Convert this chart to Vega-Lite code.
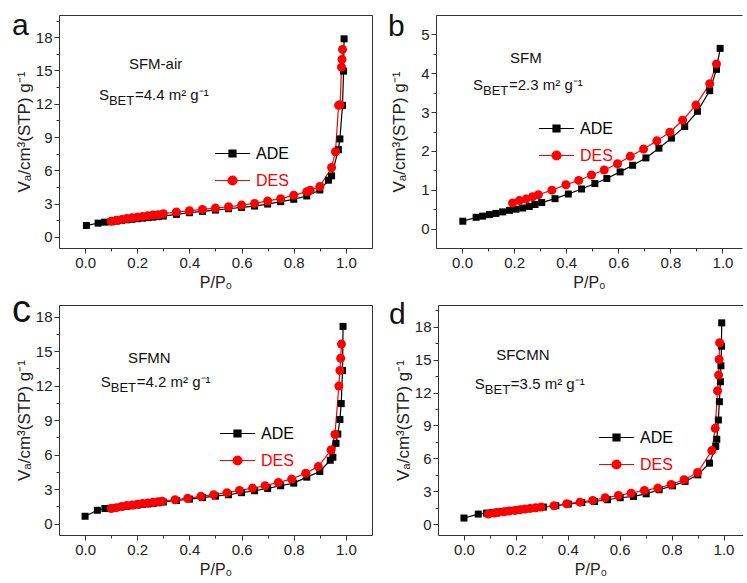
{
  "$schema": "https://vega.github.io/schema/vega-lite/v6.json",
  "padding": {"left": 12, "top": 10, "right": 0, "bottom": 0},
  "background": "white",
  "config": {
    "font": "Liberation Sans",
    "view": {"stroke": null},
    "axis": {"grid": false, "domainColor": "#333333", "tickColor": "#333333", "labelColor": "#222222", "titleColor": "#222222", "labelFontSize": 15, "titleFontSize": 16, "titleFontWeight": "normal", "labelFont": "Liberation Sans", "titleFont": "Liberation Sans", "domainWidth": 1, "tickWidth": 1},
    "axisLeft": {"titleFontSize": 17},
    "title": {"font": "Liberation Sans", "fontWeight": "normal", "color": "#111111"},
    "legend": {"labelFont": "Liberation Sans", "title": null, "orient": "none", "padding": 0, "labelFontSize": 16, "labelOffset": 5, "rowPadding": -13, "symbolSize": 1225, "symbolStrokeWidth": 1.2, "symbolOpacity": 1}
  },
  "datasets": {
    "A": [
      {"s":"ADE","p":0.005,"v":1.03},{"s":"ADE","p":0.05,"v":1.24},{"s":"ADE","p":0.075,"v":1.33},{"s":"ADE","p":0.1,"v":1.36},{"s":"ADE","p":0.12,"v":1.42},{"s":"ADE","p":0.14,"v":1.48},{"s":"ADE","p":0.16,"v":1.54},{"s":"ADE","p":0.18,"v":1.59},{"s":"ADE","p":0.2,"v":1.64},{"s":"ADE","p":0.22,"v":1.69},{"s":"ADE","p":0.24,"v":1.74},{"s":"ADE","p":0.26,"v":1.78},{"s":"ADE","p":0.28,"v":1.83},{"s":"ADE","p":0.3,"v":1.88},{"s":"ADE","p":0.35,"v":2.03},{"s":"ADE","p":0.4,"v":2.18},{"s":"ADE","p":0.45,"v":2.3},{"s":"ADE","p":0.5,"v":2.42},{"s":"ADE","p":0.55,"v":2.54},{"s":"ADE","p":0.6,"v":2.66},{"s":"ADE","p":0.65,"v":2.78},{"s":"ADE","p":0.7,"v":2.96},{"s":"ADE","p":0.75,"v":3.18},{"s":"ADE","p":0.8,"v":3.39},{"s":"ADE","p":0.85,"v":3.69},{"s":"ADE","p":0.9,"v":4.23},{"s":"ADE","p":0.933,"v":5.11},{"s":"ADE","p":0.945,"v":5.5},{"s":"ADE","p":0.971,"v":7.86},{"s":"ADE","p":0.977,"v":8.83},{"s":"ADE","p":0.987,"v":11.86},{"s":"ADE","p":0.991,"v":14.94},{"s":"ADE","p":0.993,"v":17.85},
      {"s":"DES","p":0.1,"v":1.42},{"s":"DES","p":0.12,"v":1.51},{"s":"DES","p":0.14,"v":1.57},{"s":"DES","p":0.16,"v":1.66},{"s":"DES","p":0.18,"v":1.72},{"s":"DES","p":0.2,"v":1.78},{"s":"DES","p":0.22,"v":1.85},{"s":"DES","p":0.24,"v":1.9},{"s":"DES","p":0.26,"v":1.97},{"s":"DES","p":0.28,"v":2.0},{"s":"DES","p":0.3,"v":2.09},{"s":"DES","p":0.35,"v":2.24},{"s":"DES","p":0.4,"v":2.36},{"s":"DES","p":0.45,"v":2.48},{"s":"DES","p":0.5,"v":2.6},{"s":"DES","p":0.55,"v":2.72},{"s":"DES","p":0.6,"v":2.87},{"s":"DES","p":0.65,"v":3.02},{"s":"DES","p":0.7,"v":3.24},{"s":"DES","p":0.75,"v":3.45},{"s":"DES","p":0.8,"v":3.75},{"s":"DES","p":0.85,"v":4.08},{"s":"DES","p":0.863,"v":4.2},{"s":"DES","p":0.9,"v":4.54},{"s":"DES","p":0.945,"v":6.26},{"s":"DES","p":0.96,"v":7.68},{"s":"DES","p":0.972,"v":11.86},{"s":"DES","p":0.978,"v":11.9},{"s":"DES","p":0.983,"v":15.3},{"s":"DES","p":0.985,"v":16.0},{"s":"DES","p":0.987,"v":16.9}
    ],
    "B": [
      {"s":"ADE","p":0.003,"v":0.19},{"s":"ADE","p":0.054,"v":0.29},{"s":"ADE","p":0.079,"v":0.32},{"s":"ADE","p":0.105,"v":0.36},{"s":"ADE","p":0.13,"v":0.39},{"s":"ADE","p":0.156,"v":0.43},{"s":"ADE","p":0.182,"v":0.47},{"s":"ADE","p":0.207,"v":0.5},{"s":"ADE","p":0.233,"v":0.53},{"s":"ADE","p":0.258,"v":0.57},{"s":"ADE","p":0.28,"v":0.62},{"s":"ADE","p":0.306,"v":0.67},{"s":"ADE","p":0.357,"v":0.77},{"s":"ADE","p":0.408,"v":0.89},{"s":"ADE","p":0.459,"v":1.02},{"s":"ADE","p":0.51,"v":1.16},{"s":"ADE","p":0.556,"v":1.29},{"s":"ADE","p":0.607,"v":1.46},{"s":"ADE","p":0.655,"v":1.63},{"s":"ADE","p":0.706,"v":1.82},{"s":"ADE","p":0.756,"v":2.07},{"s":"ADE","p":0.804,"v":2.33},{"s":"ADE","p":0.855,"v":2.63},{"s":"ADE","p":0.904,"v":3.02},{"s":"ADE","p":0.951,"v":3.55},{"s":"ADE","p":0.977,"v":4.1},{"s":"ADE","p":0.991,"v":4.64},
      {"s":"DES","p":0.194,"v":0.66},{"s":"DES","p":0.22,"v":0.72},{"s":"DES","p":0.246,"v":0.76},{"s":"DES","p":0.271,"v":0.82},{"s":"DES","p":0.293,"v":0.87},{"s":"DES","p":0.345,"v":0.99},{"s":"DES","p":0.399,"v":1.13},{"s":"DES","p":0.448,"v":1.24},{"s":"DES","p":0.497,"v":1.38},{"s":"DES","p":0.546,"v":1.51},{"s":"DES","p":0.597,"v":1.67},{"s":"DES","p":0.646,"v":1.86},{"s":"DES","p":0.697,"v":2.05},{"s":"DES","p":0.748,"v":2.26},{"s":"DES","p":0.798,"v":2.48},{"s":"DES","p":0.847,"v":2.79},{"s":"DES","p":0.898,"v":3.18},{"s":"DES","p":0.951,"v":3.73},{"s":"DES","p":0.977,"v":4.24}
    ],
    "C": [
      {"s":"ADE","p":0.0,"v":0.63},{"s":"ADE","p":0.047,"v":1.15},{"s":"ADE","p":0.076,"v":1.3},{"s":"ADE","p":0.1,"v":1.33},{"s":"ADE","p":0.12,"v":1.39},{"s":"ADE","p":0.14,"v":1.45},{"s":"ADE","p":0.16,"v":1.5},{"s":"ADE","p":0.18,"v":1.55},{"s":"ADE","p":0.2,"v":1.6},{"s":"ADE","p":0.22,"v":1.65},{"s":"ADE","p":0.24,"v":1.7},{"s":"ADE","p":0.26,"v":1.75},{"s":"ADE","p":0.28,"v":1.8},{"s":"ADE","p":0.3,"v":1.87},{"s":"ADE","p":0.35,"v":2.0},{"s":"ADE","p":0.4,"v":2.12},{"s":"ADE","p":0.45,"v":2.25},{"s":"ADE","p":0.5,"v":2.38},{"s":"ADE","p":0.55,"v":2.5},{"s":"ADE","p":0.6,"v":2.68},{"s":"ADE","p":0.65,"v":2.85},{"s":"ADE","p":0.7,"v":3.05},{"s":"ADE","p":0.75,"v":3.28},{"s":"ADE","p":0.8,"v":3.51},{"s":"ADE","p":0.85,"v":4.03},{"s":"ADE","p":0.9,"v":4.52},{"s":"ADE","p":0.94,"v":5.5},{"s":"ADE","p":0.95,"v":5.76},{"s":"ADE","p":0.962,"v":6.97},{"s":"ADE","p":0.969,"v":7.78},{"s":"ADE","p":0.977,"v":9.04},{"s":"ADE","p":0.982,"v":10.43},{"s":"ADE","p":0.987,"v":13.3},{"s":"ADE","p":0.989,"v":17.14},
      {"s":"DES","p":0.1,"v":1.3},{"s":"DES","p":0.12,"v":1.38},{"s":"DES","p":0.14,"v":1.47},{"s":"DES","p":0.16,"v":1.56},{"s":"DES","p":0.18,"v":1.61},{"s":"DES","p":0.2,"v":1.67},{"s":"DES","p":0.22,"v":1.73},{"s":"DES","p":0.24,"v":1.79},{"s":"DES","p":0.26,"v":1.84},{"s":"DES","p":0.28,"v":1.9},{"s":"DES","p":0.295,"v":1.93},{"s":"DES","p":0.345,"v":2.07},{"s":"DES","p":0.393,"v":2.19},{"s":"DES","p":0.444,"v":2.36},{"s":"DES","p":0.493,"v":2.51},{"s":"DES","p":0.544,"v":2.68},{"s":"DES","p":0.592,"v":2.88},{"s":"DES","p":0.642,"v":3.08},{"s":"DES","p":0.69,"v":3.28},{"s":"DES","p":0.741,"v":3.57},{"s":"DES","p":0.792,"v":3.86},{"s":"DES","p":0.846,"v":4.38},{"s":"DES","p":0.894,"v":4.95},{"s":"DES","p":0.943,"v":6.39},{"s":"DES","p":0.958,"v":7.75},{"s":"DES","p":0.973,"v":11.95},{"s":"DES","p":0.977,"v":13.3},{"s":"DES","p":0.98,"v":14.37},{"s":"DES","p":0.983,"v":15.6}
    ],
    "D": [
      {"s":"ADE","p":0.0,"v":0.55},{"s":"ADE","p":0.055,"v":0.91},{"s":"ADE","p":0.087,"v":1.0},{"s":"ADE","p":0.11,"v":1.05},{"s":"ADE","p":0.13,"v":1.1},{"s":"ADE","p":0.15,"v":1.15},{"s":"ADE","p":0.17,"v":1.2},{"s":"ADE","p":0.19,"v":1.25},{"s":"ADE","p":0.21,"v":1.3},{"s":"ADE","p":0.23,"v":1.35},{"s":"ADE","p":0.25,"v":1.4},{"s":"ADE","p":0.27,"v":1.45},{"s":"ADE","p":0.29,"v":1.5},{"s":"ADE","p":0.306,"v":1.55},{"s":"ADE","p":0.354,"v":1.67},{"s":"ADE","p":0.402,"v":1.82},{"s":"ADE","p":0.454,"v":1.97},{"s":"ADE","p":0.503,"v":2.06},{"s":"ADE","p":0.553,"v":2.22},{"s":"ADE","p":0.602,"v":2.4},{"s":"ADE","p":0.653,"v":2.52},{"s":"ADE","p":0.702,"v":2.76},{"s":"ADE","p":0.752,"v":3.13},{"s":"ADE","p":0.803,"v":3.49},{"s":"ADE","p":0.852,"v":3.89},{"s":"ADE","p":0.901,"v":4.49},{"s":"ADE","p":0.946,"v":5.56},{"s":"ADE","p":0.97,"v":7.07},{"s":"ADE","p":0.974,"v":7.74},{"s":"ADE","p":0.98,"v":9.5},{"s":"ADE","p":0.984,"v":11.17},{"s":"ADE","p":0.988,"v":12.99},{"s":"ADE","p":0.99,"v":14.45},{"s":"ADE","p":0.992,"v":16.24},{"s":"ADE","p":0.993,"v":18.37},
      {"s":"DES","p":0.094,"v":0.91},{"s":"DES","p":0.117,"v":1.0},{"s":"DES","p":0.132,"v":1.06},{"s":"DES","p":0.155,"v":1.12},{"s":"DES","p":0.173,"v":1.18},{"s":"DES","p":0.196,"v":1.24},{"s":"DES","p":0.216,"v":1.3},{"s":"DES","p":0.235,"v":1.37},{"s":"DES","p":0.254,"v":1.43},{"s":"DES","p":0.276,"v":1.49},{"s":"DES","p":0.297,"v":1.55},{"s":"DES","p":0.347,"v":1.67},{"s":"DES","p":0.396,"v":1.85},{"s":"DES","p":0.447,"v":2.0},{"s":"DES","p":0.496,"v":2.16},{"s":"DES","p":0.544,"v":2.4},{"s":"DES","p":0.595,"v":2.61},{"s":"DES","p":0.644,"v":2.82},{"s":"DES","p":0.695,"v":3.07},{"s":"DES","p":0.747,"v":3.28},{"s":"DES","p":0.798,"v":3.61},{"s":"DES","p":0.848,"v":4.04},{"s":"DES","p":0.9,"v":4.71},{"s":"DES","p":0.955,"v":6.71},{"s":"DES","p":0.968,"v":8.74},{"s":"DES","p":0.977,"v":12.17},{"s":"DES","p":0.981,"v":13.6},{"s":"DES","p":0.983,"v":15.03},{"s":"DES","p":0.985,"v":16.55}
    ],
    "ann": [
      {"panel":"a","name":"SFM-air","nx":0.168,"ny":15.6,"sx":0.053,"sy":12.8,"S":"S","sub":"BET","val":"=4.4 m² g⁻¹"},
      {"panel":"b","name":"SFM","nx":0.184,"ny":4.39,"sx":0.042,"sy":3.69,"S":"S","sub":"BET","val":"=2.3 m² g⁻¹"},
      {"panel":"c","name":"SFMN","nx":0.165,"ny":14.4,"sx":0.06,"sy":12.3,"S":"S","sub":"BET","val":"=4.2 m² g⁻¹"},
      {"panel":"d","name":"SFCMN","nx":0.124,"ny":15.4,"sx":0.042,"sy":12.8,"S":"S","sub":"BET","val":"=3.5 m² g⁻¹"}
    ]
  },
  "resolve": {"scale": {"color": "independent"}, "legend": {"color": "independent"}},
  "spacing": 2,
  "vconcat": [
    {
      "spacing": 16,
      "resolve": {"scale": {"color": "independent"}, "legend": {"color": "independent"}},
      "hconcat": [
        {
          "title": {"text": "a", "anchor": "start", "frame": "group", "fontSize": 30, "baseline": "alphabetic", "offset": -30, "dx": -47, "dy": 21},
          "width": 313, "height": 233,
          "data": {"name": "A"},
          "resolve": {"axis": {"x": "independent", "y": "independent"}},
          "layer": [
            {"mark": {"type": "line", "strokeWidth": 1.2},
             "encoding": {
               "x": {"field": "p", "type": "quantitative", "scale": {"domain": [-0.1, 1.1], "nice": false, "zero": false},
                     "axis": {"orient": "bottom", "values": [0,0.1,0.2,0.3,0.4,0.5,0.6,0.7,0.8,0.9,1.0], "format": ".1f", "labelExpr": "round(datum.value*10)%2==0 ? datum.label : ''", "tickSize": {"condition": {"test": "round(datum.value*10)%2==0", "value": 5}, "value": 3}, "labelOverlap": false, "labelPadding": 2, "titlePadding": 4, "title": "P/P₀"}},
               "y": {"field": "v", "type": "quantitative", "scale": {"domain": [-1, 20], "nice": false, "zero": false},
                     "axis": {"orient": "left", "values": [0,1.5,3,4.5,6,7.5,9,10.5,12,13.5,15,16.5,18,19.5], "format": ".0f", "labelExpr": "round(datum.value*2)%6==0 ? datum.label : ''", "tickSize": {"condition": {"test": "round(datum.value*2)%6==0", "value": 5}, "value": 3}, "labelOverlap": false, "labelPadding": 2, "titlePadding": 2, "title": "Vₐ/cm³(STP) g⁻¹"}},
               "detail": {"field": "s", "type": "nominal"},
               "stroke": {"condition": {"test": "datum.s === 'ADE'", "value": "#000000"}, "value": "#ff0000"}
             }},
            {"mark": {"type": "point", "filled": true, "opacity": 1},
             "encoding": {
               "x": {"field": "p", "type": "quantitative", "axis": {"orient": "top", "ticks": false, "labels": false, "title": null}},
               "y": {"field": "v", "type": "quantitative", "axis": {"orient": "right", "ticks": false, "labels": false, "title": null}},
               "color": {"field": "s", "type": "nominal", "scale": {"domain": ["ADE","DES"], "range": ["#000000","#ff0000"]},
                 "legend": {"legendX": 155, "legendY": 120,
                   "symbolType": {"expr": "datum.value === 'ADE' ? 'M-1,0H1M-0.2,-0.2H0.2V0.2H-0.2Z' : 'M-1,0H1M0.257,0A0.257,0.257,0,1,1,-0.257,0A0.257,0.257,0,1,1,0.257,0Z'"},
                   "symbolStrokeColor": {"expr": "datum.value === 'ADE' ? '#000000' : '#ff0000'"},
                   "labelColor": {"expr": "datum.value === 'ADE' ? '#000000' : '#ff0000'"}}},
               "shape": {"condition": {"test": "datum.s === 'ADE'", "value": "square"}, "value": "circle"},
               "size": {"condition": {"test": "datum.s === 'ADE'", "value": 49}, "value": 81}
             }},
            {"data": {"name": "ann"}, "transform": [{"filter": "datum.panel === 'a'"}],
             "mark": {"type": "text", "align": "left", "baseline": "middle", "fontSize": 15, "color": "#111111"},
             "encoding": {"x": {"field": "nx", "type": "quantitative", "axis": null}, "y": {"field": "ny", "type": "quantitative", "axis": null}, "text": {"field": "name"}}},
            {"data": {"name": "ann"}, "transform": [{"filter": "datum.panel === 'a'"}],
             "mark": {"type": "text", "align": "left", "baseline": "middle", "fontSize": 15, "color": "#111111"},
             "encoding": {"x": {"field": "sx", "type": "quantitative", "axis": null}, "y": {"field": "sy", "type": "quantitative", "axis": null}, "text": {"field": "S"}}},
            {"data": {"name": "ann"}, "transform": [{"filter": "datum.panel === 'a'"}],
             "mark": {"type": "text", "align": "left", "baseline": "middle", "fontSize": 13, "dx": 10, "dy": 6, "color": "#111111"},
             "encoding": {"x": {"field": "sx", "type": "quantitative", "axis": null}, "y": {"field": "sy", "type": "quantitative", "axis": null}, "text": {"field": "sub"}}},
            {"data": {"name": "ann"}, "transform": [{"filter": "datum.panel === 'a'"}],
             "mark": {"type": "text", "align": "left", "baseline": "middle", "fontSize": 15, "dx": 36, "color": "#111111"},
             "encoding": {"x": {"field": "sx", "type": "quantitative", "axis": null}, "y": {"field": "sy", "type": "quantitative", "axis": null}, "text": {"field": "val"}}}
          ]
        },
        {
          "title": {"text": "b", "anchor": "start", "frame": "group", "fontSize": 30, "baseline": "alphabetic", "offset": -30, "dx": -48, "dy": 21},
          "width": 306, "height": 233,
          "data": {"name": "B"},
          "resolve": {"axis": {"x": "independent", "y": "independent"}},
          "layer": [
            {"mark": {"type": "line", "strokeWidth": 1.2},
             "encoding": {
               "x": {"field": "p", "type": "quantitative", "scale": {"domain": [-0.1, 1.075], "nice": false, "zero": false},
                     "axis": {"orient": "bottom", "values": [0,0.1,0.2,0.3,0.4,0.5,0.6,0.7,0.8,0.9,1.0], "format": ".1f", "labelExpr": "round(datum.value*10)%2==0 ? datum.label : ''", "tickSize": {"condition": {"test": "round(datum.value*10)%2==0", "value": 5}, "value": 3}, "labelOverlap": false, "labelPadding": 2, "titlePadding": 4, "title": "P/P₀"}},
               "y": {"field": "v", "type": "quantitative", "scale": {"domain": [-0.5, 5.5], "nice": false, "zero": false},
                     "axis": {"orient": "left", "values": [0,0.5,1,1.5,2,2.5,3,3.5,4,4.5,5], "format": ".0f", "labelExpr": "datum.value%1==0 ? datum.label : ''", "tickSize": {"condition": {"test": "datum.value%1==0", "value": 5}, "value": 3}, "labelOverlap": false, "labelPadding": 2, "titlePadding": 12, "title": "Vₐ/cm³(STP) g⁻¹"}},
               "detail": {"field": "s", "type": "nominal"},
               "stroke": {"condition": {"test": "datum.s === 'ADE'", "value": "#000000"}, "value": "#ff0000"}
             }},
            {"mark": {"type": "point", "filled": true, "opacity": 1},
             "encoding": {
               "x": {"field": "p", "type": "quantitative", "axis": {"orient": "top", "ticks": false, "labels": false, "title": null}},
               "y": {"field": "v", "type": "quantitative", "axis": null},
               "color": {"field": "s", "type": "nominal", "scale": {"domain": ["ADE","DES"], "range": ["#000000","#ff0000"]},
                 "legend": {"legendX": 102, "legendY": 95,
                   "symbolType": {"expr": "datum.value === 'ADE' ? 'M-1,0H1M-0.2,-0.2H0.2V0.2H-0.2Z' : 'M-1,0H1M0.257,0A0.257,0.257,0,1,1,-0.257,0A0.257,0.257,0,1,1,0.257,0Z'"},
                   "symbolStrokeColor": {"expr": "datum.value === 'ADE' ? '#000000' : '#ff0000'"},
                   "labelColor": {"expr": "datum.value === 'ADE' ? '#000000' : '#ff0000'"}}},
               "shape": {"condition": {"test": "datum.s === 'ADE'", "value": "square"}, "value": "circle"},
               "size": {"condition": {"test": "datum.s === 'ADE'", "value": 49}, "value": 81}
             }},
            {"data": {"name": "ann"}, "transform": [{"filter": "datum.panel === 'b'"}],
             "mark": {"type": "text", "align": "left", "baseline": "middle", "fontSize": 15, "color": "#111111"},
             "encoding": {"x": {"field": "nx", "type": "quantitative", "axis": null}, "y": {"field": "ny", "type": "quantitative", "axis": null}, "text": {"field": "name"}}},
            {"data": {"name": "ann"}, "transform": [{"filter": "datum.panel === 'b'"}],
             "mark": {"type": "text", "align": "left", "baseline": "middle", "fontSize": 15, "color": "#111111"},
             "encoding": {"x": {"field": "sx", "type": "quantitative", "axis": null}, "y": {"field": "sy", "type": "quantitative", "axis": null}, "text": {"field": "S"}}},
            {"data": {"name": "ann"}, "transform": [{"filter": "datum.panel === 'b'"}],
             "mark": {"type": "text", "align": "left", "baseline": "middle", "fontSize": 13, "dx": 10, "dy": 6, "color": "#111111"},
             "encoding": {"x": {"field": "sx", "type": "quantitative", "axis": null}, "y": {"field": "sy", "type": "quantitative", "axis": null}, "text": {"field": "sub"}}},
            {"data": {"name": "ann"}, "transform": [{"filter": "datum.panel === 'b'"}],
             "mark": {"type": "text", "align": "left", "baseline": "middle", "fontSize": 15, "dx": 36, "color": "#111111"},
             "encoding": {"x": {"field": "sx", "type": "quantitative", "axis": null}, "y": {"field": "sy", "type": "quantitative", "axis": null}, "text": {"field": "val"}}}
          ]
        }
      ]
    },
    {
      "spacing": 17,
      "resolve": {"scale": {"color": "independent"}, "legend": {"color": "independent"}},
      "hconcat": [
        {
          "title": {"text": "c", "anchor": "start", "frame": "group", "fontSize": 38, "baseline": "alphabetic", "offset": -38, "dx": -47, "dy": 17},
          "width": 313, "height": 230,
          "data": {"name": "C"},
          "resolve": {"axis": {"x": "independent", "y": "independent"}},
          "layer": [
            {"mark": {"type": "line", "strokeWidth": 1.2},
             "encoding": {
               "x": {"field": "p", "type": "quantitative", "scale": {"domain": [-0.1, 1.1], "nice": false, "zero": false},
                     "axis": {"orient": "bottom", "values": [0,0.1,0.2,0.3,0.4,0.5,0.6,0.7,0.8,0.9,1.0], "format": ".1f", "labelExpr": "round(datum.value*10)%2==0 ? datum.label : ''", "tickSize": {"condition": {"test": "round(datum.value*10)%2==0", "value": 5}, "value": 3}, "labelOverlap": false, "labelPadding": 2, "titlePadding": 4, "title": "P/P₀"}},
               "y": {"field": "v", "type": "quantitative", "scale": {"domain": [-1, 19], "nice": false, "zero": false},
                     "axis": {"orient": "left", "values": [0,1.5,3,4.5,6,7.5,9,10.5,12,13.5,15,16.5,18], "format": ".0f", "labelExpr": "round(datum.value*2)%6==0 ? datum.label : ''", "tickSize": {"condition": {"test": "round(datum.value*2)%6==0", "value": 5}, "value": 3}, "labelOverlap": false, "labelPadding": 2, "titlePadding": 2, "title": "Vₐ/cm³(STP) g⁻¹"}},
               "detail": {"field": "s", "type": "nominal"},
               "stroke": {"condition": {"test": "datum.s === 'ADE'", "value": "#000000"}, "value": "#ff0000"}
             }},
            {"mark": {"type": "point", "filled": true, "opacity": 1},
             "encoding": {
               "x": {"field": "p", "type": "quantitative", "axis": {"orient": "top", "ticks": false, "labels": false, "title": null}},
               "y": {"field": "v", "type": "quantitative", "axis": {"orient": "right", "ticks": false, "labels": false, "title": null}},
               "color": {"field": "s", "type": "nominal", "scale": {"domain": ["ADE","DES"], "range": ["#000000","#ff0000"]},
                 "legend": {"legendX": 160, "legendY": 110,
                   "symbolType": {"expr": "datum.value === 'ADE' ? 'M-1,0H1M-0.2,-0.2H0.2V0.2H-0.2Z' : 'M-1,0H1M0.257,0A0.257,0.257,0,1,1,-0.257,0A0.257,0.257,0,1,1,0.257,0Z'"},
                   "symbolStrokeColor": {"expr": "datum.value === 'ADE' ? '#000000' : '#ff0000'"},
                   "labelColor": {"expr": "datum.value === 'ADE' ? '#000000' : '#ff0000'"}}},
               "shape": {"condition": {"test": "datum.s === 'ADE'", "value": "square"}, "value": "circle"},
               "size": {"condition": {"test": "datum.s === 'ADE'", "value": 49}, "value": 81}
             }},
            {"data": {"name": "ann"}, "transform": [{"filter": "datum.panel === 'c'"}],
             "mark": {"type": "text", "align": "left", "baseline": "middle", "fontSize": 15, "color": "#111111"},
             "encoding": {"x": {"field": "nx", "type": "quantitative", "axis": null}, "y": {"field": "ny", "type": "quantitative", "axis": null}, "text": {"field": "name"}}},
            {"data": {"name": "ann"}, "transform": [{"filter": "datum.panel === 'c'"}],
             "mark": {"type": "text", "align": "left", "baseline": "middle", "fontSize": 15, "color": "#111111"},
             "encoding": {"x": {"field": "sx", "type": "quantitative", "axis": null}, "y": {"field": "sy", "type": "quantitative", "axis": null}, "text": {"field": "S"}}},
            {"data": {"name": "ann"}, "transform": [{"filter": "datum.panel === 'c'"}],
             "mark": {"type": "text", "align": "left", "baseline": "middle", "fontSize": 13, "dx": 10, "dy": 6, "color": "#111111"},
             "encoding": {"x": {"field": "sx", "type": "quantitative", "axis": null}, "y": {"field": "sy", "type": "quantitative", "axis": null}, "text": {"field": "sub"}}},
            {"data": {"name": "ann"}, "transform": [{"filter": "datum.panel === 'c'"}],
             "mark": {"type": "text", "align": "left", "baseline": "middle", "fontSize": 15, "dx": 36, "color": "#111111"},
             "encoding": {"x": {"field": "sx", "type": "quantitative", "axis": null}, "y": {"field": "sy", "type": "quantitative", "axis": null}, "text": {"field": "val"}}}
          ]
        },
        {
          "title": {"text": "d", "anchor": "start", "frame": "group", "fontSize": 30, "baseline": "alphabetic", "offset": -30, "dx": -49, "dy": 21},
          "width": 305, "height": 230,
          "data": {"name": "D"},
          "resolve": {"axis": {"x": "independent", "y": "independent"}},
          "layer": [
            {"mark": {"type": "line", "strokeWidth": 1.2},
             "encoding": {
               "x": {"field": "p", "type": "quantitative", "scale": {"domain": [-0.1, 1.075], "nice": false, "zero": false},
                     "axis": {"orient": "bottom", "values": [0,0.1,0.2,0.3,0.4,0.5,0.6,0.7,0.8,0.9,1.0], "format": ".1f", "labelExpr": "round(datum.value*10)%2==0 ? datum.label : ''", "tickSize": {"condition": {"test": "round(datum.value*10)%2==0", "value": 5}, "value": 3}, "labelOverlap": false, "labelPadding": 2, "titlePadding": 4, "title": "P/P₀"}},
               "y": {"field": "v", "type": "quantitative", "scale": {"domain": [-1, 20], "nice": false, "zero": false},
                     "axis": {"orient": "left", "values": [0,1.5,3,4.5,6,7.5,9,10.5,12,13.5,15,16.5,18,19.5], "format": ".0f", "labelExpr": "round(datum.value*2)%6==0 ? datum.label : ''", "tickSize": {"condition": {"test": "round(datum.value*2)%6==0", "value": 5}, "value": 3}, "labelOverlap": false, "labelPadding": 2, "titlePadding": 2, "title": "Vₐ/cm³(STP) g⁻¹"}},
               "detail": {"field": "s", "type": "nominal"},
               "stroke": {"condition": {"test": "datum.s === 'ADE'", "value": "#000000"}, "value": "#ff0000"}
             }},
            {"mark": {"type": "point", "filled": true, "opacity": 1},
             "encoding": {
               "x": {"field": "p", "type": "quantitative", "axis": {"orient": "top", "ticks": false, "labels": false, "title": null}},
               "y": {"field": "v", "type": "quantitative", "axis": null},
               "color": {"field": "s", "type": "nominal", "scale": {"domain": ["ADE","DES"], "range": ["#000000","#ff0000"]},
                 "legend": {"legendX": 160, "legendY": 114,
                   "symbolType": {"expr": "datum.value === 'ADE' ? 'M-1,0H1M-0.2,-0.2H0.2V0.2H-0.2Z' : 'M-1,0H1M0.257,0A0.257,0.257,0,1,1,-0.257,0A0.257,0.257,0,1,1,0.257,0Z'"},
                   "symbolStrokeColor": {"expr": "datum.value === 'ADE' ? '#000000' : '#ff0000'"},
                   "labelColor": {"expr": "datum.value === 'ADE' ? '#000000' : '#ff0000'"}}},
               "shape": {"condition": {"test": "datum.s === 'ADE'", "value": "square"}, "value": "circle"},
               "size": {"condition": {"test": "datum.s === 'ADE'", "value": 49}, "value": 81}
             }},
            {"data": {"name": "ann"}, "transform": [{"filter": "datum.panel === 'd'"}],
             "mark": {"type": "text", "align": "left", "baseline": "middle", "fontSize": 15, "color": "#111111"},
             "encoding": {"x": {"field": "nx", "type": "quantitative", "axis": null}, "y": {"field": "ny", "type": "quantitative", "axis": null}, "text": {"field": "name"}}},
            {"data": {"name": "ann"}, "transform": [{"filter": "datum.panel === 'd'"}],
             "mark": {"type": "text", "align": "left", "baseline": "middle", "fontSize": 15, "color": "#111111"},
             "encoding": {"x": {"field": "sx", "type": "quantitative", "axis": null}, "y": {"field": "sy", "type": "quantitative", "axis": null}, "text": {"field": "S"}}},
            {"data": {"name": "ann"}, "transform": [{"filter": "datum.panel === 'd'"}],
             "mark": {"type": "text", "align": "left", "baseline": "middle", "fontSize": 13, "dx": 10, "dy": 6, "color": "#111111"},
             "encoding": {"x": {"field": "sx", "type": "quantitative", "axis": null}, "y": {"field": "sy", "type": "quantitative", "axis": null}, "text": {"field": "sub"}}},
            {"data": {"name": "ann"}, "transform": [{"filter": "datum.panel === 'd'"}],
             "mark": {"type": "text", "align": "left", "baseline": "middle", "fontSize": 15, "dx": 36, "color": "#111111"},
             "encoding": {"x": {"field": "sx", "type": "quantitative", "axis": null}, "y": {"field": "sy", "type": "quantitative", "axis": null}, "text": {"field": "val"}}}
          ]
        }
      ]
    }
  ]
}
